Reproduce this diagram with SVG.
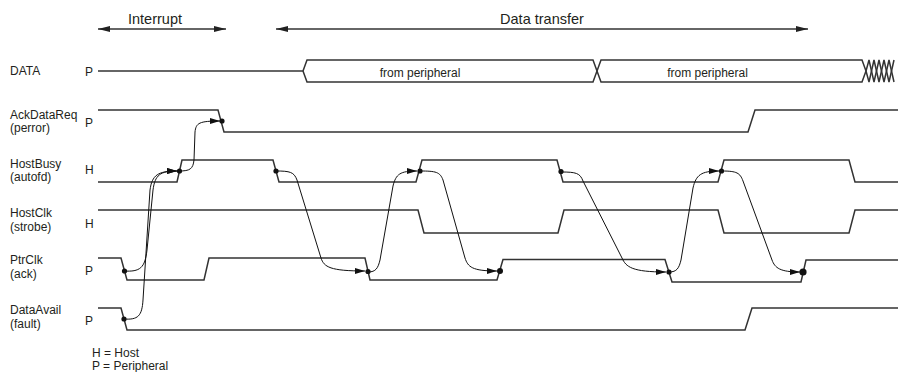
<svg xmlns="http://www.w3.org/2000/svg" width="898" height="372" viewBox="0 0 898 372">
<style>
text{font-family:"Liberation Sans",Arial,sans-serif;fill:#231f20}
.lbl{font-size:12px}
.hdr{font-size:14.5px}
.bus{font-size:12px;text-anchor:middle}
.wave{fill:none;stroke:#333;stroke-width:1.5;stroke-linejoin:miter}
.span{fill:none;stroke:#333;stroke-width:1.5}
.cause{fill:none;stroke:#111;stroke-width:1}
.dot{fill:#111}
</style>
<defs>
<marker id="ah" markerUnits="userSpaceOnUse" markerWidth="11" markerHeight="7" refX="10" refY="3" orient="auto">
<path d="M0,0 L10,3 L0,6 z" fill="#111"/>
</marker>
<marker id="sp" markerUnits="userSpaceOnUse" markerWidth="13" markerHeight="7" refX="12" refY="3" orient="auto-start-reverse">
<path d="M0,0 L12,3 L0,6 z" fill="#222"/>
</marker>
</defs>

<g id="phases">
<text class="hdr" x="155" y="23.5" text-anchor="middle">Interrupt</text>
<line class="span" x1="98" y1="29" x2="226" y2="29" marker-start="url(#sp)" marker-end="url(#sp)"/>
<text class="hdr" x="542" y="23.5" text-anchor="middle">Data transfer</text>
<line class="span" x1="276" y1="29" x2="808" y2="29" marker-start="url(#sp)" marker-end="url(#sp)"/>
</g>

<g id="sig-data">
<text class="lbl" x="10" y="75">DATA</text>
<text class="lbl" x="85" y="76">P</text>
<path class="wave" d="M98,71 H303"/>
<path class="wave" d="M303,71 L307,60 H593 L601,82 H862 L866,71"/>
<path class="wave" d="M303,71 L307,82 H593 L601,60 H862 L866,71"/>
<path class="wave" stroke-width="1" d="M866,71 L869,60 L874,82 L879,60 L884,82 L889,60 L894,82"/>
<path class="wave" stroke-width="1" d="M866,71 L869,82 L874,60 L879,82 L884,60 L889,82 L894,60"/>
<text class="bus" x="420" y="77">from peripheral</text>
<text class="bus" x="707.5" y="77">from peripheral</text>
</g>

<g id="sig-ackdatareq">
<text class="lbl" x="10" y="118.5">AckDataReq</text>
<text class="lbl" x="10" y="132">(perror)</text>
<text class="lbl" x="85" y="127">P</text>
<path class="wave" d="M98,110 H218 L224,132 H748 L755,110 H898"/>
</g>

<g id="sig-hostbusy">
<text class="lbl" x="10" y="167.5">HostBusy</text>
<text class="lbl" x="10" y="181">(autofd)</text>
<text class="lbl" x="85" y="174">H</text>
<path class="wave" d="M98,182 H177 L182,160 H273 L279,182 H416 L422,160 H557 L563,182 H718 L724,160 H849 L855,182 H898"/>
</g>

<g id="sig-hostclk">
<text class="lbl" x="10" y="217">HostClk</text>
<text class="lbl" x="10" y="230.5">(strobe)</text>
<text class="lbl" x="85" y="227.5">H</text>
<path class="wave" d="M98,210 H418 L424,233 H558 L564,210 H718 L724,233 H849 L855,210 H898"/>
</g>

<g id="sig-ptrclk">
<text class="lbl" x="10" y="264">PtrClk</text>
<text class="lbl" x="10" y="277.5">(ack)</text>
<text class="lbl" x="85" y="275">P</text>
<path class="wave" d="M98,258 H121 L127,280 H204 L209,258 H365 L370,280 H497 L503,259.5 H665 L672,282 H801 L806,260 H898"/>
</g>

<g id="sig-dataavail">
<text class="lbl" x="10" y="314">DataAvail</text>
<text class="lbl" x="10" y="327.5">(fault)</text>
<text class="lbl" x="85" y="325">P</text>
<path class="wave" d="M98,308 H121 L127,330 H745 L752,308 H898"/>
</g>

<g id="legend">
<text class="lbl" x="92" y="356.5">H = Host</text>
<text class="lbl" x="92" y="369.5">P = Peripheral</text>
</g>

<g id="connectors">
<path class="cause" marker-end="url(#ah)" d="M124,271 C140,272 145,268 147,250 L153,190 C155,175 160,171 177,171"/>
<path class="cause" marker-end="url(#ah)" d="M124,319 C138,320 142,316 143,300 L150,190 C152,175 158,171 177,171"/>
<path class="cause" marker-end="url(#ah)" d="M179,171 C190,171 193,169 194,160 L195,132 C196,123 199,121 220,121"/>
<path class="cause" marker-end="url(#ah)" d="M276,171 C290,171 294,172 297,180 L321,258 C324,267 330,271 365,271"/>
<path class="cause" marker-end="url(#ah)" d="M368,272 C376,272 378,268 380,260 L393,186 C396,174 400,171 417,171"/>
<path class="cause" marker-end="url(#ah)" d="M420,171 C436,171 440,172 443,180 L465,258 C468,267 472,271 497,271"/>
<path class="cause" marker-end="url(#ah)" d="M561,172 C576,172 580,173 583,181 L622,258 C626,267 632,272 666,272"/>
<path class="cause" marker-end="url(#ah)" d="M669,272 C677,272 679,268 681,260 L693,188 C696,175 701,171 719,171"/>
<path class="cause" marker-end="url(#ah)" d="M722,171 C737,171 740,173 743,181 L772,260 C775,268 780,272 800,272"/>
<circle class="dot" cx="222" cy="121" r="2.6"/>
<circle class="dot" cx="179.5" cy="171" r="2.6"/>
<circle class="dot" cx="124.5" cy="271" r="2.6"/>
<circle class="dot" cx="124" cy="319" r="2.6"/>
<circle class="dot" cx="276" cy="171" r="2.6"/>
<circle class="dot" cx="368" cy="271.5" r="2.6"/>
<circle class="dot" cx="420" cy="171" r="2.6"/>
<circle class="dot" cx="500" cy="271" r="3"/>
<circle class="dot" cx="561" cy="171.5" r="2.6"/>
<circle class="dot" cx="669" cy="272" r="2.6"/>
<circle class="dot" cx="721.5" cy="171" r="2.6"/>
<circle class="dot" cx="803" cy="272" r="3.6"/>
</g>
</svg>
